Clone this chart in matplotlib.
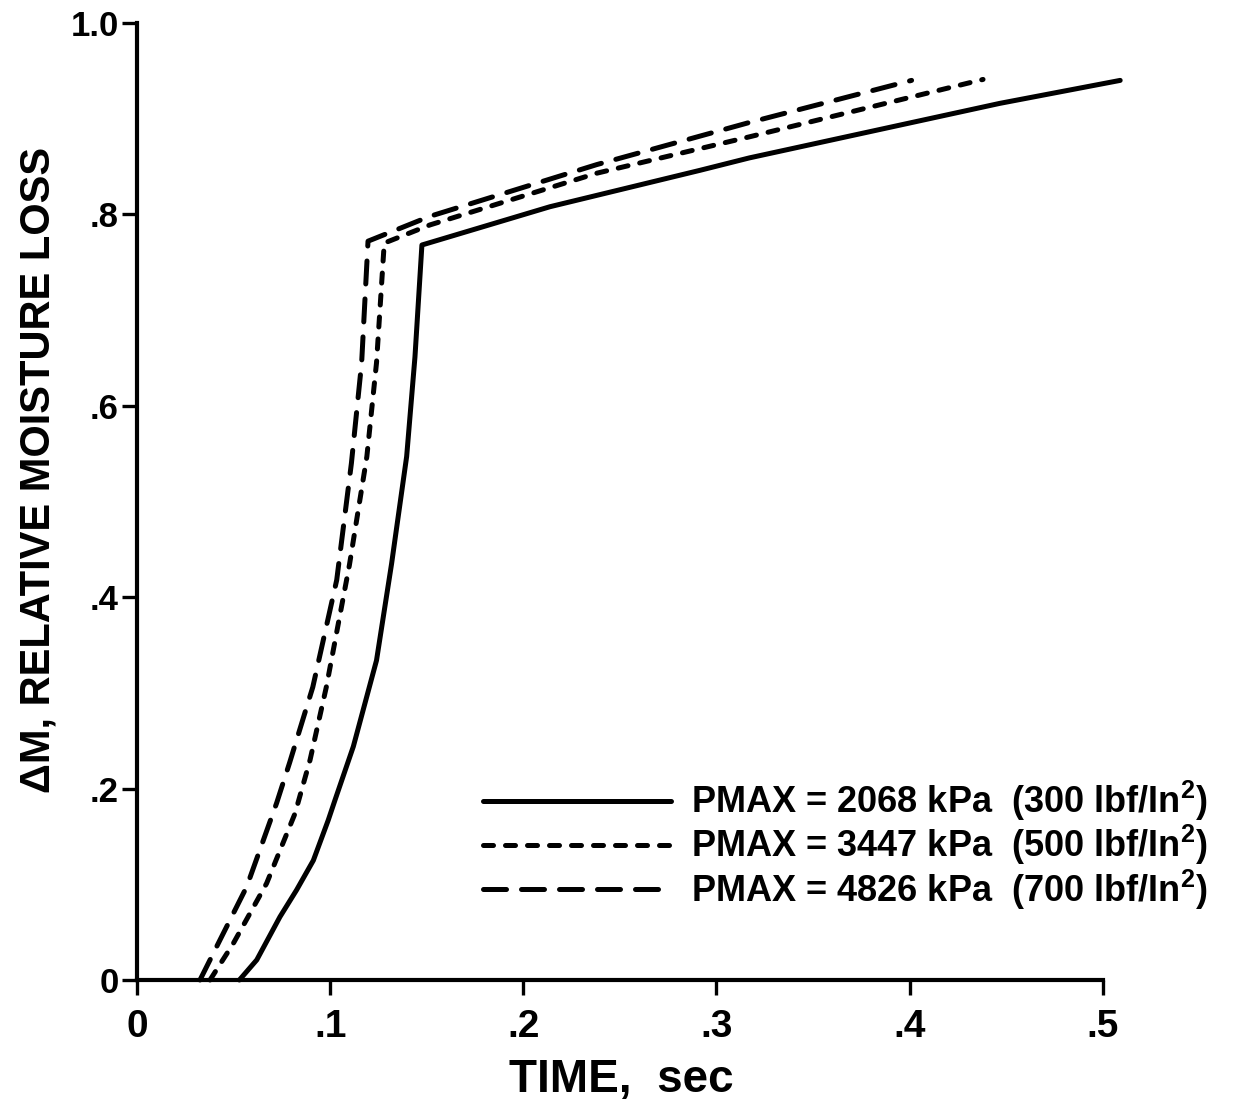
import matplotlib
matplotlib.use("Agg")
import matplotlib.pyplot as plt

# -----------------------------------------------------------------------------
# curve data: time (sec) vs relative moisture loss
t_2068 = [0.053, 0.062, 0.074, 0.0826, 0.0913, 0.099, 0.1025, 0.112, 0.124, 0.1318,
          0.1396, 0.1439, 0.1475, 0.2138, 0.2914, 0.317, 0.4467, 0.509]
dm_2068 = [0.0, 0.021, 0.066, 0.094, 0.125, 0.167, 0.188, 0.244, 0.334, 0.435,
           0.547, 0.651, 0.768, 0.808, 0.846, 0.859, 0.916, 0.940]

t_3447 = [0.0378, 0.0498, 0.0671, 0.0818, 0.0896, 0.098, 0.110, 0.119, 0.124, 0.128,
          0.1517, 0.238, 0.317, 0.438]
dm_3447 = [0.0, 0.038, 0.101, 0.174, 0.230, 0.306, 0.434, 0.547, 0.645, 0.770,
           0.789, 0.843, 0.881, 0.941]

t_4826 = [0.0326, 0.043, 0.0568, 0.0723, 0.079, 0.091, 0.1034, 0.111, 0.1163, 0.1196,
          0.1517, 0.238, 0.317, 0.401]
dm_4826 = [0.0, 0.042, 0.0975, 0.185, 0.227, 0.306, 0.418, 0.540, 0.645, 0.772,
           0.798, 0.852, 0.896, 0.940]

labels = [r"PMAX = 2068 kPa  (300 lbf/In$^{\mathbf{2}}$)",
          r"PMAX = 3447 kPa  (500 lbf/In$^{\mathbf{2}}$)",
          r"PMAX = 4826 kPa  (700 lbf/In$^{\mathbf{2}}$)"]

x_ticks = [0, 0.1, 0.2, 0.3, 0.4, 0.5]
x_ticklabels = ["0", ".1", ".2", ".3", ".4", ".5"]
y_ticks = [0, 0.2, 0.4, 0.6, 0.8, 1.0]
y_ticklabels = ["0", ".2", ".4", ".6", ".8", "1.0"]
# -----------------------------------------------------------------------------

plt.rcParams['font.family'] = ['Liberation Sans', 'DejaVu Sans']
plt.rcParams['font.weight'] = 'bold'
plt.rcParams['mathtext.fontset'] = 'custom'
plt.rcParams['mathtext.rm'] = 'Liberation Sans:bold'
plt.rcParams['mathtext.bf'] = 'Liberation Sans:bold'

fig = plt.figure(figsize=(12.5, 11.04), dpi=100)
ax = fig.add_axes([0.1096, 0.1123, 0.819, 0.8669])

lw = 3.6
ax.plot(t_2068, dm_2068, color='black', lw=lw, solid_capstyle='round',
        solid_joinstyle='round', clip_on=False, label=labels[0])
ax.plot(t_3447, dm_3447, color='black', lw=lw, dashes=(2.0, 2.4),
        dash_capstyle='round', clip_on=False, label=labels[1])
ax.plot(t_4826, dm_4826, color='black', lw=lw, dashes=(4.6, 3.0),
        dash_capstyle='round', clip_on=False, label=labels[2])

ax.set_xlim(0, 0.53)
ax.set_ylim(0, 1.0)

for side in ['top', 'right']:
    ax.spines[side].set_visible(False)
for side in ['left', 'bottom']:
    ax.spines[side].set_linewidth(3)
ax.spines['bottom'].set_bounds(0, 0.5)

ax.set_xticks(x_ticks)
ax.set_xticklabels(x_ticklabels)
ax.set_yticks(y_ticks)
ax.set_yticklabels(y_ticklabels)
ax.tick_params(axis='both', direction='out', length=11, width=2.4)
ax.tick_params(axis='x', pad=10, labelsize=28)
ax.tick_params(axis='y', pad=2, labelsize=25)

fig.text(0.497, 0.0217, "TIME,  sec", fontsize=33, fontweight='bold', ha='center', va='center')
fig.text(0.031, 0.574, "\u0394M, RELATIVE MOISTURE LOSS", fontsize=30, fontweight='bold',
         rotation=90, ha='center', va='center')

leg = ax.legend(loc='upper left', bbox_to_anchor=(0.338, 0.21), frameon=False,
                fontsize=26, handlelength=5.2, handletextpad=0.55, labelspacing=0.0,
                borderpad=0, borderaxespad=0)

fig.savefig("out.png", dpi=100)
